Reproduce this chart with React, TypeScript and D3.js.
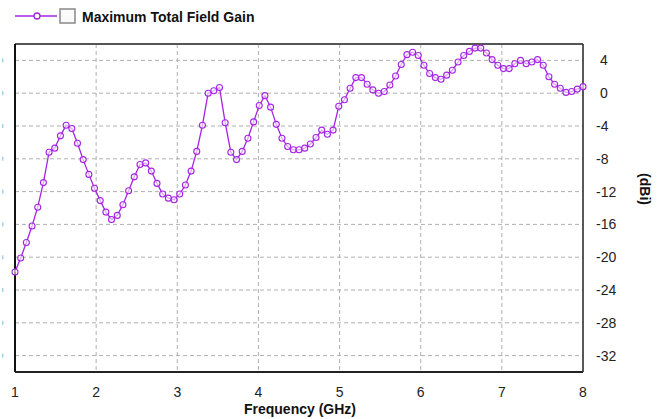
import React from "react";
import * as d3 from "d3";

// frequency sweep 1..8 GHz, step 0.07
const freqStart = 1;
const freqStep = 0.07;
const gain = [
  -21.8, -20.1, -18.2, -16.2, -13.9, -10.9, -7.2, -6.7, -5.2, -3.9,
  -4.3, -6.1, -8.1, -9.9, -11.6, -13.1, -14.5, -15.4, -14.9, -13.6,
  -11.9, -10.2, -8.7, -8.5, -9.5, -11.0, -12.3, -12.8, -13.0, -12.3,
  -11.2, -9.5, -7.1, -3.9, 0.0, 0.3, 0.7, -3.6, -7.2, -8.1,
  -7.1, -5.5, -3.5, -1.5, -0.3, -1.7, -3.8, -5.5, -6.5, -6.9,
  -6.9, -6.7, -6.2, -5.4, -4.5, -5.0, -4.5, -1.6, -0.8, 0.6,
  1.9, 1.9, 1.1, 0.4, 0.0, 0.2, 1.0, 2.1, 3.5, 4.7,
  5.0, 4.6, 3.4, 2.4, 1.9, 1.7, 2.2, 2.8, 3.8, 4.6,
  5.1, 5.5, 5.5, 4.9, 4.1, 3.4, 3.0, 3.0, 3.6, 4.0,
  3.6, 3.8, 4.1, 3.4, 2.0, 1.1, 0.6, 0.1, 0.2, 0.5, 0.8,
];
const xTicks = [1, 2, 3, 4, 5, 6, 7, 8];
const yTicks = [4, 0, -4, -8, -12, -16, -20, -24, -28, -32];
const seriesName = "Maximum Total Field Gain";

const W = 662;
const H = 419;
const margin = { top: 44, right: 79, bottom: 47, left: 15 };
const purple = "#a424e4";
const font = "'Liberation Sans', Arial, sans-serif";

export default function App() {
  const data = gain.map((g, i) => ({ f: freqStart + i * freqStep, g }));
  const x = d3.scaleLinear().domain([1, 8]).range([margin.left, W - margin.right]);
  const y = d3.scaleLinear().domain([-34, 6]).range([H - margin.bottom, margin.top]);
  const line = d3
    .line<{ f: number; g: number }>()
    .x((d) => x(d.f))
    .y((d) => y(d.g));

  const [x0, x1] = x.range();
  const [yb, yt] = y.range();

  return (
    <svg
      width={W}
      height={H}
      style={{ position: "absolute", left: 0, top: 0, background: "#fff" }}
      fontFamily={font}
    >
      {/* legend */}
      <g>
        <line x1={15} x2={57} y1={16} y2={16} stroke={purple} strokeWidth={1.3} />
        <circle cx={37} cy={16} r={3} fill="#fff" stroke={purple} strokeWidth={1.3} />
        <rect x={60} y={9} width={15} height={14} fill="#fafafa" stroke="#888" strokeWidth={1.5} />
        <text x={82} y={22} fontSize={14} fontWeight="bold" fill="#111">
          {seriesName}
        </text>
      </g>

      {/* grid */}
      {yTicks.map((t) => (
        <line
          key={"gy" + t}
          x1={x0}
          x2={x1}
          y1={y(t)}
          y2={y(t)}
          stroke="#b0b0b0"
          strokeDasharray="4,3"
        />
      ))}
      {xTicks.slice(1, -1).map((t) => (
        <line
          key={"gx" + t}
          x1={x(t)}
          x2={x(t)}
          y1={yt}
          y2={yb}
          stroke="#b0b0b0"
          strokeDasharray="4,3"
        />
      ))}

      {/* clipped left labels */}
      {yTicks.map((t) => (
        <rect key={"lb" + t} x={2} y={y(t) - 2} width={1.5} height={4} fill="#9fd4ee" />
      ))}

      {/* frame */}
      <line x1={x0} x2={x1} y1={yt} y2={yt} stroke="#555" strokeWidth={2} />
      <line x1={x0} x2={x0} y1={yt} y2={yb} stroke="#111" strokeWidth={2} />
      <line x1={x1} x2={x1} y1={yt} y2={yb} stroke="#222" strokeWidth={1.5} />
      <line x1={x0} x2={x1} y1={yb} y2={yb} stroke="#222" strokeWidth={2} />

      {/* series */}
      <path d={line(data) ?? ""} fill="none" stroke={purple} strokeWidth={1.3} />
      {data.map((d, i) => (
        <circle
          key={i}
          cx={x(d.f)}
          cy={y(d.g)}
          r={3}
          fill="#fff"
          fillOpacity={0.6}
          stroke={purple}
          strokeWidth={1.1}
        />
      ))}

      {/* right axis */}
      {yTicks.map((t) => (
        <text
          key={"yl" + t}
          x={x1 + (t < 0 ? 13 : 17)}
          y={y(t)}
          dy="0.36em"
          fontSize={14}
          fill="#222"
        >
          {t}
        </text>
      ))}
      <text
        transform={`translate(${645},${189}) rotate(90)`}
        textAnchor="middle"
        dy="0.35em"
        fontSize={14}
        fontWeight="bold"
        fill="#111"
      >
        (dBi)
      </text>

      {/* bottom axis */}
      {xTicks.map((t) => (
        <text
          key={"xl" + t}
          x={x(t)}
          y={yb + 20}
          dy="0.36em"
          textAnchor="middle"
          fontSize={14}
          fill="#222"
        >
          {t}
        </text>
      ))}
      <text x={(x0 + x1) / 2 + 1} y={414} textAnchor="middle" fontSize={14} fontWeight="bold" fill="#111">
        Frequency (GHz)
      </text>
    </svg>
  );
}
